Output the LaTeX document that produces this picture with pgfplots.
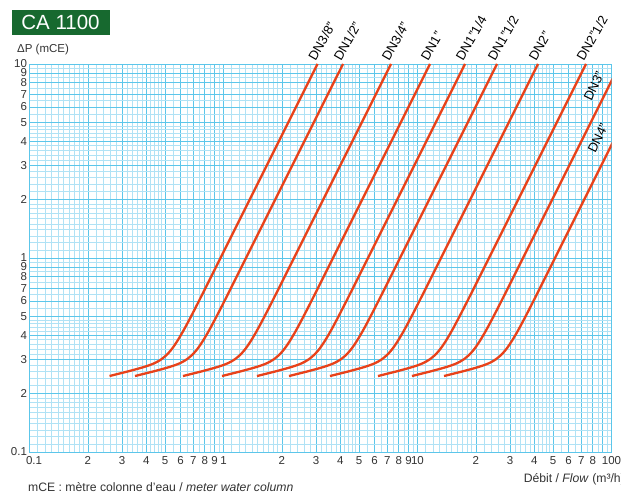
\documentclass[border=0pt]{standalone}
\usepackage{fontspec}
\setmainfont{Liberation Sans}
\usepackage{pgfplots}
\pgfplotsset{compat=1.18}
\definecolor{gridmain}{HTML}{5CC6EA}
\definecolor{gridfine}{HTML}{B0E2F5}
\definecolor{curve}{HTML}{E8421A}
\definecolor{titlegreen}{HTML}{17692F}
\definecolor{txt}{HTML}{333333}
\tikzset{labelnode/.style={rotate=60, anchor=base west, inner sep=0pt, font=\fontsize{13}{13}\selectfont, text=black},
  dncurve/.style={curve, line width=2.3pt, smooth}}
\begin{document}
\begin{tikzpicture}[x=1pt,y=1pt]
\path[use as bounding box] (0,0) rectangle (621,494);
\node[fill=titlegreen, minimum width=98pt, minimum height=25pt, inner sep=0pt, text=white, font=\fontsize{20.5}{20}\selectfont] at (60.5,471.5) {CA 1100};
\node[anchor=base west, inner sep=0pt, text=txt, font=\fontsize{11.5}{12}\selectfont] at (17,441) {ΔP (mCE)};
\begin{axis}[
  at={(29.5pt,42pt)}, anchor=south west,
  scale only axis, width=582pt, height=388pt,
  xmode=log, ymode=log,
  xmin=0.1, xmax=100, ymin=0.1, ymax=10,
  clip mode=individual,
  xtick={0.1,0.2,0.3,0.4,0.5,0.6,0.7,0.8,0.9,1,2,3,4,5,6,7,8,9,10,20,30,40,50,60,70,80,90,100},
  xticklabels={\hspace{9pt}0.1,2,3,4,5,6,7,8,9,1,2,3,4,5,6,7,8,9,10,2,3,4,5,6,7,8,,100},
  ytick={0.1,0.2,0.3,0.4,0.5,0.6,0.7,0.8,0.9,1,2,3,4,5,6,7,8,9,10},
  yticklabels={0.1,2,3,4,5,6,7,8,9,1,2,3,4,5,6,7,8,9,10},
  minor xtick={0.11,0.12,0.13,0.14,0.15,0.16,0.17,0.18,0.19,0.22,0.24,0.26,0.28,0.32,0.34,0.36,0.38,0.42,0.44,0.46,0.48,0.55,0.65,0.75,0.85,0.95,
    1.1,1.2,1.3,1.4,1.5,1.6,1.7,1.8,1.9,2.2,2.4,2.6,2.8,3.2,3.4,3.6,3.8,4.2,4.4,4.6,4.8,5.5,6.5,7.5,8.5,9.5,
    11,12,13,14,15,16,17,18,19,22,24,26,28,32,34,36,38,42,44,46,48,55,65,75,85,95},
  minor ytick={0.11,0.12,0.13,0.14,0.15,0.16,0.17,0.18,0.19,0.22,0.24,0.26,0.28,0.32,0.34,0.36,0.38,0.42,0.44,0.46,0.48,0.55,0.65,0.75,0.85,0.95,
    1.1,1.2,1.3,1.4,1.5,1.6,1.7,1.8,1.9,2.2,2.4,2.6,2.8,3.2,3.4,3.6,3.8,4.2,4.4,4.6,4.8,5.5,6.5,7.5,8.5,9.5},
  grid=both,
  major grid style={gridmain, line width=0.6pt},
  minor grid style={gridfine, line width=0.5pt},
  major tick length=0pt, minor tick length=0pt,
  axis line style={gridmain, line width=0.6pt},
  tick label style={font=\fontsize{11.5}{12}\selectfont, text=txt},
  xticklabel style={yshift=-1pt},
  yticklabel style={xshift=1pt},
]
% DN3/8"
\addplot[dncurve] coordinates {(0.2585,0.2464) (0.32765,0.2615) (0.39155,0.2748) (0.44100,0.2870) (0.47921,0.3009) (0.51460,0.3199) (0.54616,0.3432) (0.57940,0.3748) (0.62211,0.4229) (0.68420,0.5053) (0.77043,0.6377) (0.89875,0.8672) (1.6717,3) (3.0529,10)};
% DN1/2"
\addplot[dncurve] coordinates {(0.3499,0.2464) (0.44350,0.2615) (0.53000,0.2748) (0.59693,0.2870) (0.64864,0.3009) (0.69655,0.3199) (0.73927,0.3432) (0.78427,0.3748) (0.84207,0.4229) (0.92612,0.5053) (1.04284,0.6377) (1.21653,0.8672) (2.2628,3) (4.1323,10)};
% DN3/4"
\addplot[dncurve] coordinates {(0.6184,0.2464) (0.78382,0.2615) (0.93669,0.2748) (1.05499,0.2870) (1.14639,0.3009) (1.23105,0.3199) (1.30656,0.3432) (1.38608,0.3748) (1.48824,0.4229) (1.63678,0.5053) (1.84308,0.6377) (2.15005,0.8672) (3.9992,3) (7.3033,10)};
% DN1"
\addplot[dncurve] coordinates {(0.9824,0.2464) (1.24519,0.2615) (1.48806,0.2748) (1.67597,0.2870) (1.82117,0.3009) (1.95566,0.3199) (2.07561,0.3432) (2.20195,0.3748) (2.36424,0.4229) (2.60022,0.5053) (2.92794,0.6377) (3.41561,0.8672) (6.3532,3) (11.602,10)};
% DN1"1/4
\addplot[dncurve] coordinates {(1.488,0.2464) (1.88604,0.2615) (2.25387,0.2748) (2.53853,0.2870) (2.75845,0.3009) (2.96216,0.3199) (3.14385,0.3432) (3.33520,0.3748) (3.58102,0.4229) (3.93844,0.5053) (4.43484,0.6377) (5.17348,0.8672) (9.6229,3) (17.573,10)};
% DN1"1/2
\addplot[dncurve] coordinates {(2.176,0.2464) (2.75808,0.2615) (3.29599,0.2748) (3.71226,0.2870) (4.03387,0.3009) (4.33176,0.3199) (4.59745,0.3432) (4.87729,0.3748) (5.23676,0.4229) (5.75944,0.5053) (6.48535,0.6377) (7.56552,0.8672) (14.072,3) (25.699,10)};
% DN2"
\addplot[dncurve] coordinates {(3.540,0.2464) (4.48695,0.2615) (5.36204,0.2748) (6.03924,0.2870) (6.56245,0.3009) (7.04708,0.3199) (7.47931,0.3432) (7.93456,0.3748) (8.51936,0.4229) (9.36967,0.5053) (10.5506,0.6377) (12.3079,0.8672) (22.893,3) (41.807,10)};
% DN2"1/2
\addplot[dncurve] coordinates {(6.257,0.2464) (7.93075,0.2615) (9.47748,0.2748) (10.6744,0.2870) (11.5992,0.3009) (12.4558,0.3199) (13.2198,0.3432) (14.0244,0.3748) (15.0581,0.4229) (16.5610,0.5053) (18.6484,0.6377) (21.7543,0.8672) (40.464,3) (73.895,10)};
% DN3"
\addplot[dncurve] coordinates {(9.368,0.2464) (11.8739,0.2615) (14.1897,0.2748) (15.9818,0.2870) (17.3664,0.3009) (18.6489,0.3199) (19.7927,0.3432) (20.9974,0.3748) (22.5450,0.4229) (24.7952,0.5053) (27.9204,0.6377) (32.5707,0.8672) (60.583,3) (110.64,10)};
% DN4"
\addplot[dncurve] coordinates {(13.70,0.2464) (17.3648,0.2615) (20.7514,0.2748) (23.3722,0.2870) (25.3971,0.3009) (27.2726,0.3199) (28.9454,0.3432) (30.7072,0.3748) (32.9704,0.4229) (36.2612,0.5053) (40.8315,0.6377) (47.6322,0.8672) (88.598,3) (161.80,10)};
\node[labelnode, xshift=1pt, yshift=3pt] at (axis cs:3.0529,10) {DN3/8"};
\node[labelnode, xshift=1pt, yshift=3pt] at (axis cs:4.1323,10) {DN1/2"};
\node[labelnode, xshift=1pt, yshift=3pt] at (axis cs:7.3033,10) {DN3/4"};
\node[labelnode, xshift=1pt, yshift=3pt] at (axis cs:11.602,10) {DN1"};
\node[labelnode, xshift=1pt, yshift=3pt] at (axis cs:17.573,10) {DN1"1/4};
\node[labelnode, xshift=1pt, yshift=3pt] at (axis cs:25.699,10) {DN1"1/2};
\node[labelnode, xshift=1pt, yshift=3pt] at (axis cs:41.807,10) {DN2"};
\node[labelnode, xshift=1pt, yshift=3pt] at (axis cs:73.895,10) {DN2"1/2};
\node[rotate=64, inner sep=0pt, font=\fontsize{13}{13}\selectfont] at (axis cs:81.2,7.7) {DN3"};
\node[rotate=64, inner sep=0pt, font=\fontsize{13}{13}\selectfont] at (axis cs:85.2,4.156) {DN4"};
\end{axis}
\node[anchor=base east, inner sep=0pt, text=txt, font=\fontsize{12.2}{12}\selectfont] at (625,11) {Débit / \textit{Flow} (m³/h)};
\node[anchor=base west, inner sep=0pt, text=txt, font=\fontsize{12.2}{12}\selectfont] at (28,2) {mCE : mètre colonne d'eau / \textit{meter water column}};
\end{tikzpicture}
\end{document}
